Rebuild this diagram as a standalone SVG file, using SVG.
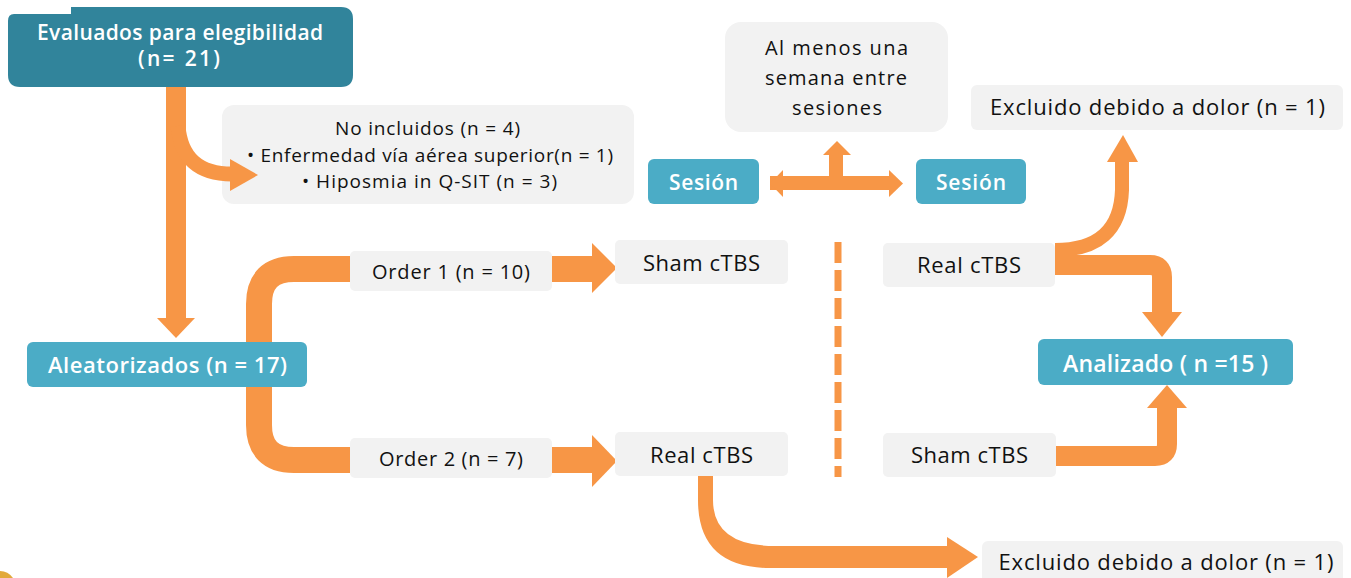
<svg xmlns="http://www.w3.org/2000/svg" width="1351" height="578" viewBox="0 0 1351 578">
<defs>
<style>
.dk{fill:#31849B}
.tl{fill:#4BACC6}
.gr{fill:#F2F2F2}
.band{fill:none;stroke:#F79646;stroke-linecap:butt;stroke-linejoin:round}
.head{fill:#F79646}
.w{font-family:"Open Sans","Liberation Sans",sans-serif;fill:#FFFFFF;text-anchor:middle;font-weight:600}
.b{font-family:"Open Sans","Liberation Sans",sans-serif;fill:#111111;text-anchor:middle}
</style>
</defs>
<rect width="1351" height="578" fill="#FFFFFF"/>
<g id="no-incluidos">
<rect class="gr" x="222" y="105" width="412" height="99" rx="12"/>
<text class="b" x="427.5" y="135" font-size="19" textLength="185" lengthAdjust="spacing">No incluidos (n = 4)</text>
<text class="b" x="430" y="162" font-size="19" textLength="366" lengthAdjust="spacing">•  Enfermedad vía aérea superior(n = 1)</text>
<text class="b" x="429.5" y="188" font-size="19" textLength="255" lengthAdjust="spacing">•  Hiposmia in Q-SIT (n = 3)</text>
</g>
<g id="connectors">
<path class="band" stroke-width="20" d="M176 87 V318"/>
<polygon class="head" points="157,318 195,318 176,338"/>
<path class="band" stroke-width="15" d="M178 126 Q182 174 232 174"/>
<polygon class="head" points="230,159 258,175 230,191"/>
<path class="band" stroke-width="26" d="M595 269 H294 Q259 269 259 304 V425 Q259 460 294 460 H595"/>
<polygon class="head" points="592,243 617,268 592,293"/>
<polygon class="head" points="592,435 617,461 592,487"/>
<path class="head" d="M698 476 V500 Q698 568 770 568 H949 V546 H775 Q713 546 713 500 V476 Z"/>
<polygon class="head" points="947,537 978,557 947,578"/>
<path class="band" stroke-width="14" d="M770 183 H890 M836 183 V154"/>
<polygon class="head" points="783,170 770,183.5 783,197"/>
<polygon class="head" points="889,170 903,183.5 889,197"/>
<polygon class="head" points="823,155 851,155 837,141"/>
<path class="band" stroke-width="7" stroke-dasharray="21 7" d="M838 242 V477"/>
<path class="band" stroke-width="14" d="M1122 160 V190 Q1120 250 1055 250"/>
<polygon class="head" points="1107,162 1138,162 1123,135"/>
<path class="band" stroke-width="20" d="M1055 265 H1150 Q1162 265 1162 277 V313"/>
<polygon class="head" points="1142,312 1182,312 1162,337"/>
<path class="band" stroke-width="20" d="M1056 456 H1155 Q1167 456 1167 444 V407"/>
<polygon class="head" points="1147,408 1187,408 1167,385"/>
</g>
<g id="evaluados">
<path class="dk" d="M8 21 Q8 14 14 14 H71 V7 H341 Q353 7 353 19 V75 Q353 87 341 87 H20 Q8 87 8 75 Z"/>
<text class="w" x="180" y="40" font-size="21" textLength="286" lengthAdjust="spacing">Evaluados para elegibilidad</text>
<text class="w" x="179" y="66" font-size="21" textLength="82" lengthAdjust="spacing">(n= 21)</text>
</g>
<g id="semana">
<rect class="gr" x="725" y="22" width="223" height="110" rx="16"/>
<text class="b" x="836.5" y="55" font-size="20" textLength="143" lengthAdjust="spacing">Al menos una</text>
<text class="b" x="836" y="85" font-size="20" textLength="142" lengthAdjust="spacing">semana entre</text>
<text class="b" x="837" y="115" font-size="20" textLength="90" lengthAdjust="spacing">sesiones</text>
</g>
<g id="sesion1">
<rect class="tl" x="648" y="159" width="111" height="45" rx="6"/>
<text class="w" x="703.5" y="190" font-size="21" font-weight="700" textLength="69" lengthAdjust="spacing">Sesión</text>
</g>
<g id="sesion2">
<rect class="tl" x="916" y="159" width="110" height="45" rx="6"/>
<text class="w" x="971" y="190" font-size="21" font-weight="700" textLength="70" lengthAdjust="spacing">Sesión</text>
</g>
<g id="excluido1">
<rect class="gr" x="971" y="85" width="372" height="45" rx="6"/>
<text class="b" x="1157.5" y="115" font-size="22" textLength="335" lengthAdjust="spacing">Excluido debido a dolor (n = 1)</text>
</g>
<g id="aleatorizados">
<rect class="tl" x="27" y="342" width="280" height="45" rx="6"/>
<text class="w" x="167.5" y="373" font-size="22" textLength="239" lengthAdjust="spacing">Aleatorizados (n = 17)</text>
</g>
<g id="order1">
<rect class="gr" x="350" y="251" width="202" height="40" rx="5"/>
<text class="b" x="451" y="279" font-size="20" textLength="158" lengthAdjust="spacing">Order 1 (n = 10)</text>
</g>
<g id="order2">
<rect class="gr" x="350" y="438" width="202" height="40" rx="5"/>
<text class="b" x="451" y="466" font-size="20" textLength="144" lengthAdjust="spacing">Order 2 (n = 7)</text>
</g>
<g id="sham1">
<rect class="gr" x="615" y="240" width="173" height="44" rx="5"/>
<text class="b" x="701.5" y="271" font-size="22" textLength="117" lengthAdjust="spacing">Sham cTBS</text>
</g>
<g id="real1">
<rect class="gr" x="615" y="432" width="173" height="44" rx="5"/>
<text class="b" x="701.5" y="463" font-size="22" textLength="103" lengthAdjust="spacing">Real cTBS</text>
</g>
<g id="real2">
<rect class="gr" x="883" y="243" width="172" height="44" rx="5"/>
<text class="b" x="969" y="273" font-size="22" textLength="104" lengthAdjust="spacing">Real cTBS</text>
</g>
<g id="sham2">
<rect class="gr" x="883" y="433" width="173" height="44" rx="5"/>
<text class="b" x="969.5" y="463" font-size="22" textLength="117" lengthAdjust="spacing">Sham cTBS</text>
</g>
<g id="analizado">
<rect class="tl" x="1038" y="339" width="255" height="46" rx="6"/>
<text class="w" x="1165.5" y="372" font-size="23" textLength="205" lengthAdjust="spacing">Analizado ( n =15 )</text>
</g>
<g id="excluido2">
<rect class="gr" x="982" y="541" width="361" height="45" rx="6"/>
<text class="b" x="1166" y="570" font-size="22" textLength="335" lengthAdjust="spacing">Excluido debido a dolor (n = 1)</text>
</g>
<path d="M0 571 Q8 571 13 578 H0 Z" fill="#E2A93B"/>
</svg>
